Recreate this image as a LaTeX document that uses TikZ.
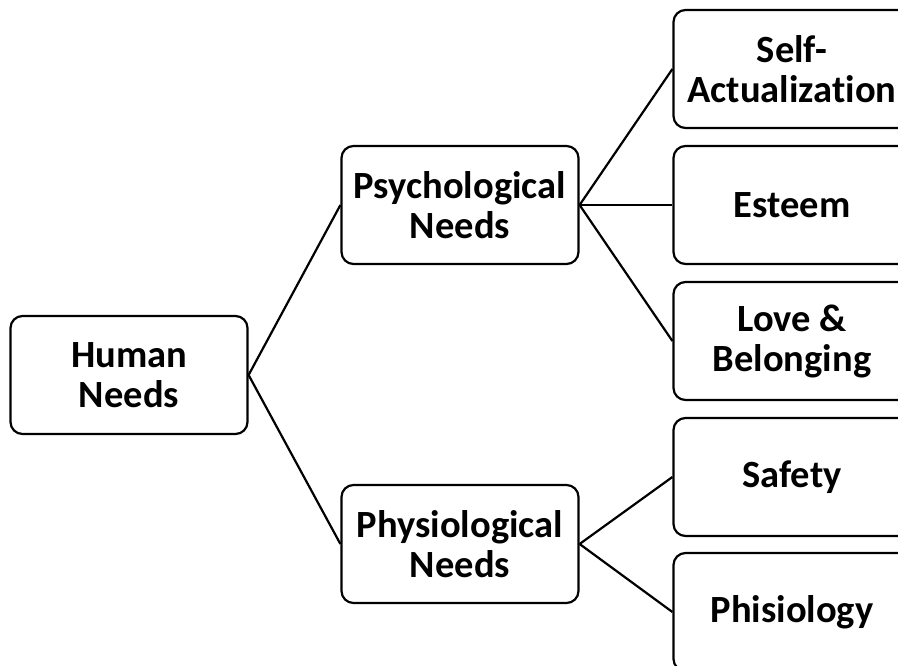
\documentclass[tikz,border=0pt]{standalone}
\usepackage{fontspec}
\setmainfont{Carlito}[Ligatures={NoCommon}]
\begin{document}
\begin{tikzpicture}[x=1pt,y=-1pt,
  box/.style={draw=black, line width=2.2pt, rounded corners=12pt, minimum width=237pt, minimum height=118pt, align=center, font=\fontsize{38.5}{40}\selectfont\bfseries, inner sep=0pt},
  link/.style={draw=black, line width=2.2pt}]
\useasboundingbox (0,0) rectangle (898,665);
\clip (0,0) rectangle (898,665);
\node[box] (human) at (129,375) {Human\\Needs};
\node[box] (psych) at (460,205) {Psychological\\Needs};
\node[box] (phys) at (460,544) {Physiological\\Needs};
\node[box] (self) at (792,69) {Self-\\Actualization};
\node[box] (esteem) at (792,205) {Esteem};
\node[box] (love) at (792,341) {Love \&\\Belonging};
\node[box] (safety) at (792,477) {Safety};
\node[box] (phisio) at (792,612) {Phisiology};
\draw[link] (human.east) -- (psych.west);
\draw[link] (human.east) -- (phys.west);
\draw[link] (psych.east) -- (self.west);
\draw[link] (psych.east) -- (esteem.west);
\draw[link] (psych.east) -- (love.west);
\draw[link] (phys.east) -- (safety.west);
\draw[link] (phys.east) -- (phisio.west);
\end{tikzpicture}
\end{document}
